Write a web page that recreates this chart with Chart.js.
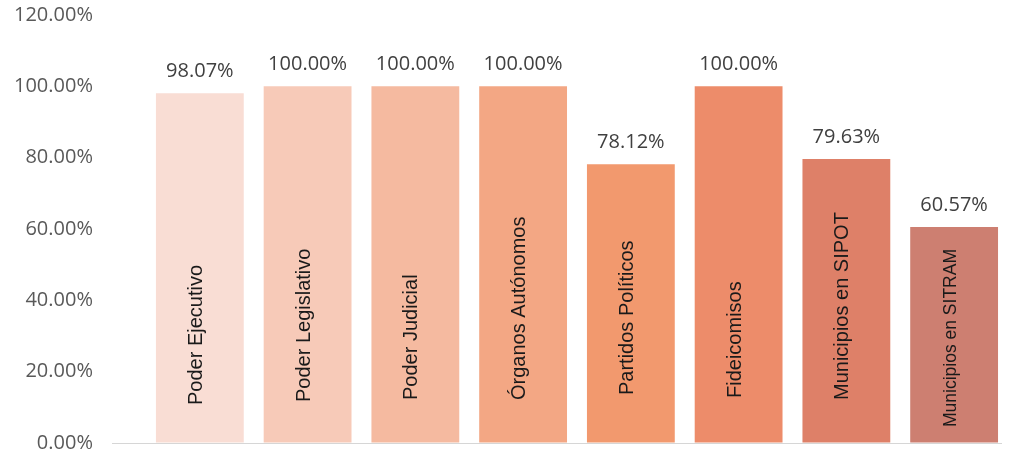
<!DOCTYPE html>
<html>
<head>
<meta charset="utf-8">
<script src="https://cdn.jsdelivr.net/npm/chart.js@4.4.1/dist/chart.umd.min.js"></script>
<style>
  html, body { margin: 0; padding: 0; background: #fff; }
  #wrap { width: 1024px; height: 458px; }
</style>
</head>
<body>
<div id="wrap"><canvas id="barChart" width="1024" height="458"></canvas></div>
<script>
const categories = ['Poder Ejecutivo', 'Poder Legislativo', 'Poder Judicial', 'Órganos Autónomos',
  'Partidos Políticos', 'Fideicomisos', 'Municipios en SIPOT', 'Municipios en SITRAM'];
const values = [98.07, 100.00, 100.00, 100.00, 78.12, 100.00, 79.63, 60.57];
const yTicks = [0, 20, 40, 60, 80, 100, 120];

const barColors = ['#f9ddd4', '#f7cab8', '#f5baa0', '#f3a784', '#f2996e', '#ed8c6a', '#de8068', '#cd7f71'];
// style of the names written inside the bars
const innerFontSizes = [20, 20, 20, 20, 20, 20, 20, 17.5];
const innerBottomGap = [38, 41, 43, 43, 48, 45, 43, 16];

// value above each bar + rotated category name inside each bar
const barText = {
  id: 'barText',
  afterDatasetsDraw(chart) {
    const ctx = chart.ctx;
    const meta = chart.getDatasetMeta(0);
    const yScale = chart.scales.y;
    const y0 = yScale.getPixelForValue(0);
    ctx.save();
    meta.data.forEach((bar, i) => {
      ctx.fillStyle = '#404040';
      ctx.font = '20px "Open Sans", sans-serif';
      ctx.textAlign = 'center';
      ctx.textBaseline = 'alphabetic';
      ctx.fillText(values[i].toFixed(2) + '%', bar.x, bar.y - 16);

      ctx.save();
      ctx.translate(bar.x + 2, y0 - innerBottomGap[i]);
      ctx.rotate(-Math.PI / 2);
      ctx.fillStyle = '#1a1a1a';
      ctx.font = innerFontSizes[i] + 'px "Liberation Sans", Arial, sans-serif';
      ctx.textAlign = 'left';
      ctx.textBaseline = 'alphabetic';
      ctx.fillText(categories[i], 0, 0);
      ctx.restore();
    });
    // baseline
    ctx.strokeStyle = '#d6d6d6';
    ctx.lineWidth = 1;
    ctx.beginPath();
    ctx.moveTo(112, Math.round(y0) + 0.5);
    ctx.lineTo(1002, Math.round(y0) + 0.5);
    ctx.stroke();
    ctx.restore();
  }
};

new Chart(document.getElementById('barChart').getContext('2d'), {
  type: 'bar',
  data: {
    labels: categories,
    datasets: [{
      data: values,
      backgroundColor: barColors,
      categoryPercentage: 0.815,
      barPercentage: 1.0
    }]
  },
  options: {
    responsive: false,
    animation: false,
    layout: { padding: { top: 3, bottom: 0, right: 16, left: 11 } },
    plugins: { legend: { display: false }, tooltip: { enabled: false } },
    scales: {
      x: {
        grid: { display: false },
        border: { display: false },
        ticks: { display: false }
      },
      y: {
        min: 0,
        max: 120,
        afterBuildTicks: (axis) => { axis.ticks = yTicks.map(v => ({ value: v })); },
        grid: { display: true, drawOnChartArea: false, drawTicks: true, tickLength: 50, color: 'rgba(0,0,0,0)' },
        border: { display: false },
        ticks: {
          padding: 3,
          color: '#595959',
          font: { family: '"Open Sans", sans-serif', size: 20 },
          callback: (v) => v.toFixed(2) + '%'
        }
      }
    }
  },
  plugins: [barText]
});
</script>
</body>
</html>
